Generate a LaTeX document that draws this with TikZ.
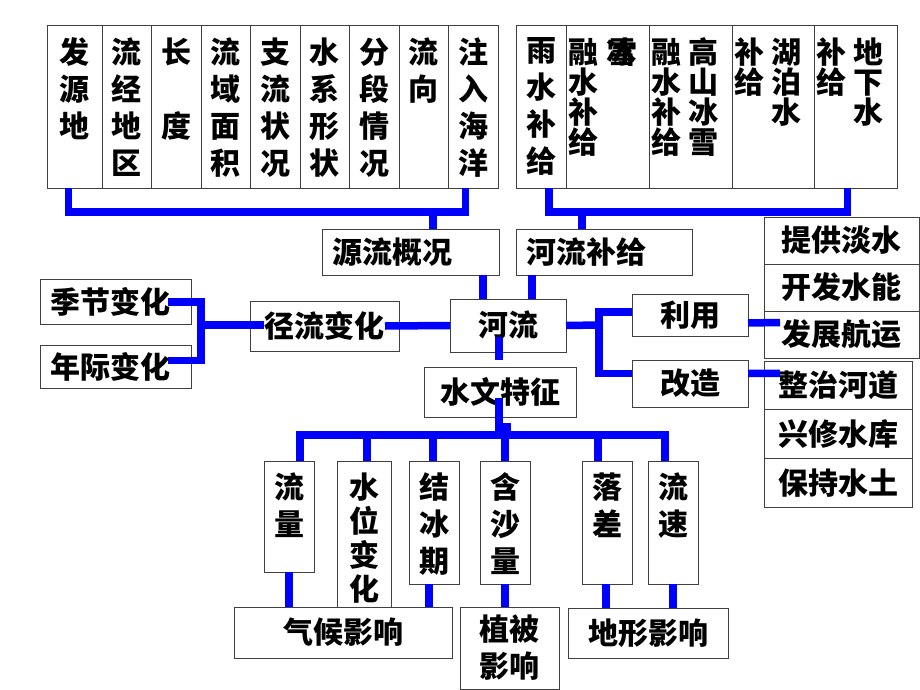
\documentclass[tikz,border=0pt]{standalone}
\usepackage{fontspec}
\setmainfont{Noto Sans CJK SC}
\usepackage{tikz}
\usetikzlibrary{positioning}

% column cells: text stacked from the top
\newcommand{\vcol}[3]{\parbox[t][#2][t]{#1}{\centering\vspace*{12pt}#3}}
\newcommand{\vpair}[3]{\parbox[t][#2][t]{#1}{\raggedright\leftskip=2pt\baselineskip=30pt\vspace*{12pt}#3}}

\begin{document}
\begin{tikzpicture} [x=1pt, y=-1pt,
    colcell/.style = {draw=black!75, line width=1pt, inner sep=0pt, outer sep=0pt,
                      font=\fontsize{30}{37}\selectfont\bfseries},
    rowbox/.style  = {draw=black!75, line width=1pt, inner sep=0pt, outer sep=0pt,
                      font=\fontsize{30}{37}\selectfont\bfseries},
    link/.style    = {draw=blue, line width=7.5pt}]

    \path [fill=white] (0,0) rectangle (920,690);
    \useasboundingbox (0,0) rectangle (920,690);

    % top row
    \node (fayuan) [colcell, anchor=north west] at (47,26) {\vcol{55pt}{162pt}{发\\源\\地}};
    \node (liujing) [colcell, right=0pt of fayuan] {\vcol{49.5pt}{162pt}{流\\经\\地\\区}};
    \node (changdu) [colcell, right=0pt of liujing] {\vcol{49.5pt}{162pt}{长\\\mbox{}\\度}};
    \node (liuyu) [colcell, right=0pt of changdu] {\vcol{49.5pt}{162pt}{流\\域\\面\\积}};
    \node (zhiliu) [colcell, right=0pt of liuyu] {\vcol{49.5pt}{162pt}{支\\流\\状\\况}};
    \node (shuixi) [colcell, right=0pt of zhiliu] {\vcol{49.5pt}{162pt}{水\\系\\形\\状}};
    \node (fenduan) [colcell, right=0pt of shuixi] {\vcol{49.5pt}{162pt}{分\\段\\情\\况}};
    \node (liuxiang) [colcell, right=0pt of fenduan] {\vcol{49.5pt}{162pt}{流\\向}};
    \node (zhuru) [colcell, right=0pt of liuxiang] {\vcol{49.5pt}{162pt}{注\\入\\海\\洋}};

    \node (yushui) [colcell, anchor=north west] at (516,26) {\vcol{50pt}{162pt}{雨\\水\\补\\给}};
    \node (bingxue) [colcell, right=0pt of yushui] {\vpair{83pt}{162pt}{融\hspace{9pt}\rlap{冰}雪\\水\\补\\给}};
    \node (gaoshan) [colcell, right=0pt of bingxue] {\vpair{83pt}{162pt}{融\hspace{7pt}高\\水\hspace{7pt}山\\补\hspace{7pt}冰\\给\hspace{7pt}雪}};
    \node (hubo) [colcell, right=0pt of gaoshan] {\vpair{82pt}{162pt}{补\hspace{7pt}湖\\给\hspace{7pt}泊\\\hspace*{37pt}水}};
    \node (dixia) [colcell, right=0pt of hubo] {\vpair{83pt}{162pt}{补\hspace{7pt}地\\给\hspace{7pt}下\\\hspace*{37pt}水}};

    % middle
    \node (yuanliu) [rowbox, minimum width=177, minimum height=46, text width=157, align=left] at (410.5,252) {源流概况};
    \node (bugei) [rowbox, minimum width=176, minimum height=46, text width=156, align=left] at (604,252) {河流补给};

    \node (danshui) [rowbox, minimum width=155, minimum height=47] at (841.5,240.5) {提供淡水};
    \node (shuineng) [rowbox, minimum width=155, minimum height=47, below=0pt of danshui] {开发水能};
    \node (hangyun) [rowbox, minimum width=155, minimum height=47, below=0pt of shuineng] {发展航运};
    \node (hedao) [rowbox, minimum width=148, minimum height=48.7, below=3pt of hangyun.south west, anchor=north west] {整治河道};
    \node (shuiku) [rowbox, minimum width=148, minimum height=48.7, below=0pt of hedao] {兴修水库};
    \node (shuitu) [rowbox, minimum width=148, minimum height=48.7, below=0pt of shuiku] {保持水土};

    \node (liyong) [rowbox, minimum width=116, minimum height=42] at (690,315) {利用};
    \node (gaizao) [rowbox, minimum width=116, minimum height=47] at (690,383.5) {改造};

    \node (jijie) [rowbox, minimum width=151, minimum height=45, text width=131, align=left] at (115.5,302) {季节变化};
    \node (nianji) [rowbox, minimum width=151, minimum height=43, text width=131, align=left] at (115.5,366.5) {年际变化};
    \node (jingliu) [rowbox, minimum width=149, minimum height=50] at (324.5,326) {径流变化};
    \node (heliu) [rowbox, minimum width=116, minimum height=53] at (508,325.5) {河流};
    \node (shuiwen) [rowbox, minimum width=152, minimum height=50] at (500,392) {水文特征};

    % bottom
    \node (liuliang) [colcell, anchor=north west] at (264,461) {\vcol{50pt}{111pt}{流\\量}};
    \node (shuiwei) [colcell, anchor=north west] at (337,461) {\vcol{54pt}{146pt}{\baselineskip=34pt 水\\位\\变\\化}};
    \node (jiebing) [colcell, anchor=north west] at (409,461) {\vcol{50pt}{123pt}{结\\冰\\期}};
    \node (hansha) [colcell, anchor=north west] at (480,461) {\vcol{50pt}{123pt}{含\\沙\\量}};
    \node (luocha) [colcell, anchor=north west] at (582,461) {\vcol{50pt}{123pt}{落\\差}};
    \node (liusu) [colcell, anchor=north west] at (648,461) {\vcol{50pt}{123pt}{流\\速}};

    \node (qihou) [rowbox, minimum width=218, minimum height=51] at (343,632.5) {气候影响};
    \node (zhibei) [rowbox, minimum width=99, minimum height=82, align=center] at (509.5,648) {植被\\影响};
    \node (dixing) [rowbox, minimum width=160, minimum height=50] at (648,633) {地形影响};

    % junctions
    \coordinate (ylj) at (433,212);
    \coordinate (bgj) at (582,212);
    \coordinate (jlj) at (201,325);
    \coordinate (lyj) at (599,325);
    \coordinate (swj) at (507,435);

    \draw [link] ([xshift=-6pt]fayuan.south) |- (ylj) -| ([xshift=-8pt]zhuru.south);
    \draw [link] (ylj) -- (ylj |- yuanliu.north);
    \draw [link] ([xshift=8pt]yushui.south) |- (bgj) -| ([xshift=-8pt]dixia.south);
    \draw [link] (bgj) -- (bgj |- bugei.north);

    \draw [link] ([xshift=-25pt]heliu.north) -- ([xshift=-25pt]heliu.north |- yuanliu.south);
    \draw [link] ([xshift=24pt]heliu.north) -- ([xshift=24pt]heliu.north |- bugei.south);

    \draw [link] ([xshift=-23pt]jijie.east) -| (jlj) |- ([xshift=-23pt,yshift=6pt]nianji.east);
    \draw [link] (jlj) -- ([xshift=14pt]jlj -| jingliu.west);
    \draw [link] ([xshift=-14pt]jingliu.east) -- (heliu.west);

    \draw [link] (heliu.east) -- (lyj);
    \draw [link] ([yshift=3pt]liyong.west) -| (lyj) |- ([yshift=10pt]gaizao.west);
    \draw [link] ([yshift=-8pt]liyong.east) -- ([xshift=16pt,yshift=12pt]hangyun.west);
    \draw [link] ([yshift=10pt]gaizao.east) -- ([xshift=16pt,yshift=12pt]hedao.west);

    \draw [link] ([xshift=-9pt,yshift=15pt]heliu.south) -- ([xshift=-1pt,yshift=7pt]shuiwen.north);
    \draw [link] ([xshift=-1pt,yshift=-6pt]shuiwen.center) |- ([yshift=8pt]swj) -- (swj);
    \draw [link] ([xshift=11pt]liuliang.north) |- (swj) -| ([xshift=-8pt]liusu.north);
    \draw [link] ([xshift=3pt]shuiwei.north) -- ([xshift=3pt]shuiwei.north |- swj);
    \draw [link] ([xshift=-1pt]jiebing.north) -- ([xshift=-1pt]jiebing.north |- swj);
    \draw [link] (hansha.north) -- (hansha.north |- swj);
    \draw [link] ([xshift=-9pt]luocha.north) -- ([xshift=-9pt]luocha.north |- swj);

    \draw [link] (liuliang.south) -- (liuliang.south |- qihou.north);
    \draw [link] ([xshift=-5pt]jiebing.south) -- ([xshift=-5pt]jiebing.south |- qihou.north);
    \draw [link] (hansha.south) -- (hansha.south |- zhibei.north);
    \draw [link] ([xshift=-1pt]luocha.south) -- ([xshift=-1pt]luocha.south |- dixing.north);
    \draw [link] (liusu.south) -- (liusu.south |- dixing.north);

\end{tikzpicture}
\end{document}
